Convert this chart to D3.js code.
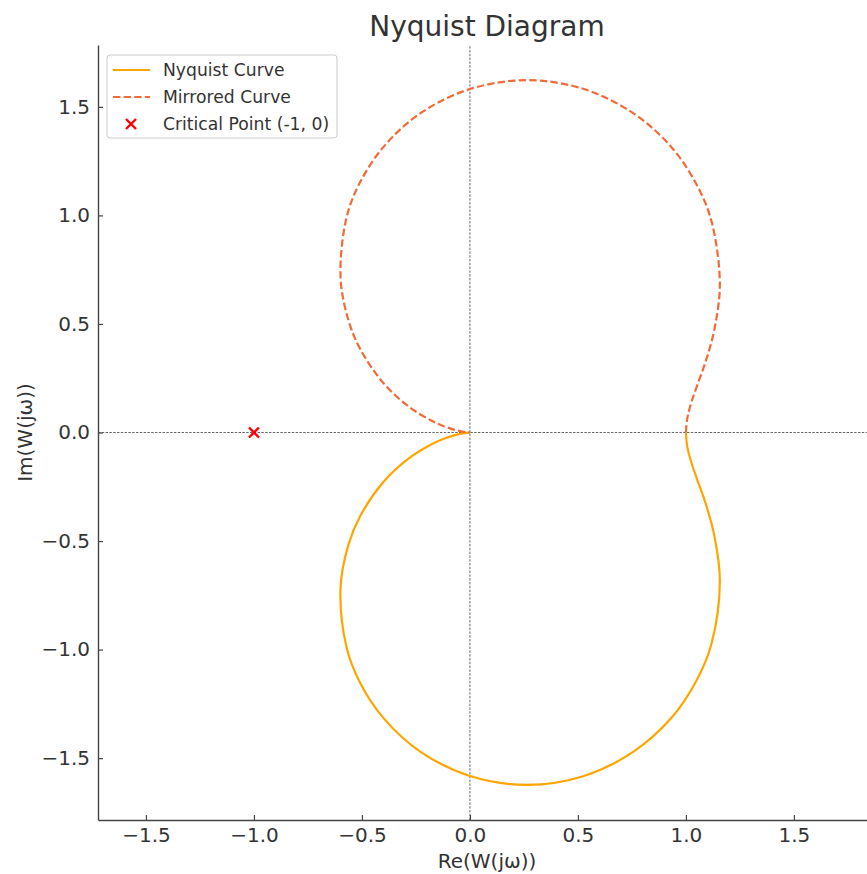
<!DOCTYPE html>
<html>
<head>
<meta charset="utf-8">
<title>Nyquist Diagram</title>
<script src="https://cdn.jsdelivr.net/npm/d3@7"></script>
<style>
  body { margin: 0; background: #fff; }
  svg text { font-family: "DejaVu Sans", sans-serif; fill: #333; }
</style>
</head>
<body>
<svg width="867" height="874"></svg>
<script>
// Nyquist curve points (Re, Im), from omega = 0 upward
var reVals = [1.000, 1.006, 1.024, 1.053, 1.092, 1.132, 1.157, 1.119, 1.051, 0.935, 0.759, 0.528, 0.264, 0.000,
              -0.227, -0.398, -0.510, -0.572, -0.599, -0.563, -0.508, -0.400, -0.283, -0.175, -0.118, -0.065, -0.028, -0.010, 0.000];
var imVals = [0.000, -0.064, -0.135, -0.219, -0.329, -0.477, -0.685, -0.971, -1.139, -1.312, -1.469, -1.582, -1.623, -1.582,
              -1.472, -1.318, -1.150, -0.987, -0.714, -0.519, -0.385, -0.227, -0.119, -0.053, -0.028, -0.011, -0.003, -0.001, 0.000];
var criticalPoint = [-1, 0];
var xTicks = [-1.5, -1.0, -0.5, 0.0, 0.5, 1.0, 1.5];
var yTicks = [-1.5, -1.0, -0.5, 0.0, 0.5, 1.0, 1.5];
var seriesNames = ["Nyquist Curve", "Mirrored Curve", "Critical Point (-1, 0)"];

var svg = d3.select("svg");
var margin = {left: 98, top: 45, right: 876, bottom: 820};

var x = d3.scaleLinear().domain([-1.722, 1.880]).range([margin.left, margin.right]);
var y = d3.scaleLinear().domain([-1.785, 1.785]).range([margin.bottom, margin.top]);

var nyquist = reVals.map(function(r, i) { return [r, imVals[i]]; });
var mirrored = reVals.map(function(r, i) { return [r, -imVals[i]]; });

// reference lines through the origin
svg.append("line")
  .attr("x1", x(x.domain()[0])).attr("x2", x(x.domain()[1]))
  .attr("y1", y(0)).attr("y2", y(0))
  .attr("stroke", "#666").attr("stroke-width", 1).attr("stroke-dasharray", "2.4,1.4");
svg.append("line")
  .attr("x1", x(0)).attr("x2", x(0))
  .attr("y1", y(y.domain()[0])).attr("y2", y(y.domain()[1]))
  .attr("stroke", "#666").attr("stroke-width", 1).attr("stroke-dasharray", "2.4,1.4");

var line = d3.line()
  .x(function(d) { return x(d[0]); })
  .y(function(d) { return y(d[1]); })
  .curve(d3.curveCatmullRom.alpha(0.5));

svg.append("path").datum(nyquist)
  .attr("d", line).attr("fill", "none")
  .attr("stroke", "#ffa500").attr("stroke-width", 2.2);

svg.append("path").datum(mirrored)
  .attr("d", line).attr("fill", "none")
  .attr("stroke", "#f26a37").attr("stroke-width", 2.2)
  .attr("stroke-dasharray", "7.4,3.2");

// critical point marker
var cx = x(criticalPoint[0]), cy = y(criticalPoint[1]), s = 5;
svg.append("path")
  .attr("d", "M" + (cx - s) + "," + (cy - s) + "L" + (cx + s) + "," + (cy + s) +
             "M" + (cx - s) + "," + (cy + s) + "L" + (cx + s) + "," + (cy - s))
  .attr("stroke", "red").attr("stroke-width", 2.4);

// axes (left + bottom only, ticks inside)
var fmt = d3.format(".1f");
var xAxis = svg.append("g").attr("transform", "translate(0," + margin.bottom + ")")
  .call(d3.axisBottom(x).tickValues(xTicks).tickFormat(fmt).tickSizeInner(-5).tickSizeOuter(0).tickPadding(8));
var yAxis = svg.append("g").attr("transform", "translate(" + margin.left + ",0)")
  .call(d3.axisLeft(y).tickValues(yTicks).tickFormat(fmt).tickSizeInner(-5).tickSizeOuter(0).tickPadding(8));
[xAxis, yAxis].forEach(function(a) {
  a.select(".domain").attr("stroke", "#444").attr("stroke-width", 1.4);
  a.selectAll(".tick line").attr("stroke", "#444").attr("stroke-width", 1.2);
  a.selectAll(".tick text").attr("font-size", 20).attr("fill", "#333")
    .style("font-family", "DejaVu Sans, sans-serif");
});

// title and axis labels
svg.append("text").attr("x", (margin.left + margin.right) / 2).attr("y", 36)
  .attr("text-anchor", "middle").attr("font-size", 28).text("Nyquist Diagram");
svg.append("text").attr("x", (margin.left + margin.right) / 2).attr("y", 868)
  .attr("text-anchor", "middle").attr("font-size", 20).text("Re(W(jω))");
svg.append("text").attr("transform", "translate(32," + y(0) + ") rotate(-90)")
  .attr("text-anchor", "middle").attr("font-size", 20).text("Im(W(jω))");

// legend
var lg = svg.append("g").attr("transform", "translate(107,55)");
lg.append("rect").attr("width", 230).attr("height", 83).attr("rx", 3)
  .attr("fill", "#fff").attr("fill-opacity", 0.8).attr("stroke", "#ccc").attr("stroke-width", 1);
var rowY = [15, 42, 69];
lg.append("line").attr("x1", 6).attr("x2", 43).attr("y1", rowY[0]).attr("y2", rowY[0])
  .attr("stroke", "#ffa500").attr("stroke-width", 2.2);
lg.append("line").attr("x1", 6).attr("x2", 43).attr("y1", rowY[1]).attr("y2", rowY[1])
  .attr("stroke", "#f26a37").attr("stroke-width", 2.2).attr("stroke-dasharray", "7.4,3.2");
var mx = 24, my = rowY[2], ms = 5;
lg.append("path")
  .attr("d", "M" + (mx - ms) + "," + (my - ms) + "L" + (mx + ms) + "," + (my + ms) +
             "M" + (mx - ms) + "," + (my + ms) + "L" + (mx + ms) + "," + (my - ms))
  .attr("stroke", "red").attr("stroke-width", 2.4);
lg.selectAll("text.lbl").data(seriesNames).enter().append("text")
  .attr("class", "lbl")
  .attr("x", 56).attr("y", function(d, i) { return rowY[i]; })
  .attr("dy", "0.35em").attr("font-size", 17.2)
  .text(function(d) { return d; });
</script>
</body>
</html>
